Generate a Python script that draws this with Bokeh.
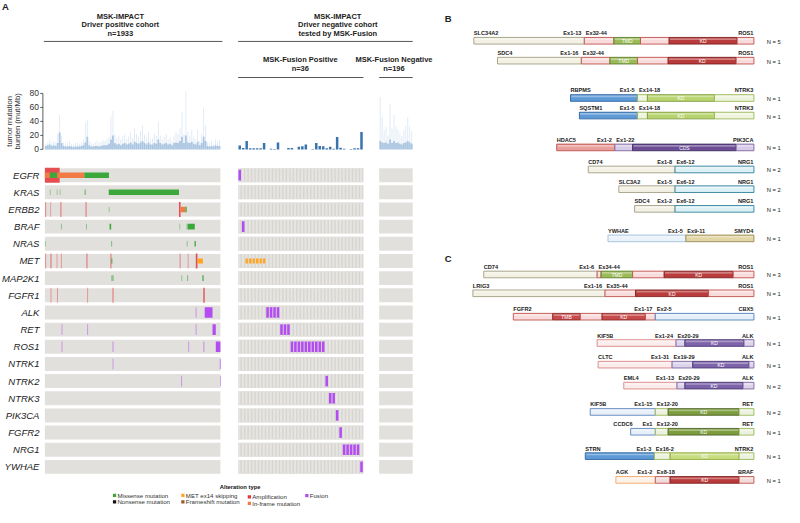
import numpy as np
from bokeh.plotting import figure
from bokeh.models import Range1d
from bokeh.core.properties import value
from bokeh.embed import file_html
from bokeh.resources import INLINE

# ============================ DATA ============================
GENES = ["EGFR", "KRAS", "ERBB2", "BRAF", "NRAS", "MET", "MAP2K1", "FGFR1", "ALK",
         "RET", "ROS1", "NTRK1", "NTRK2", "NTRK3", "PIK3CA", "FGFR2", "NRG1", "YWHAE"]
N_POS, N_FUS, N_NEG = 1933, 36, 196
TMB_TICKS = [0, 20, 40, 60, 80]

# TMB of driver-positive cohort, summarised in 89 consecutive sample bins (peak / typical)
TMB_POS_PEAK = [8, 10, 14, 9, 12, 10, 22, 49, 20, 10, 8, 9, 12, 8, 7, 9, 10, 8, 11, 14,
                38, 42, 12, 9, 8, 10, 12, 9, 11, 13, 12, 15, 18, 47, 55, 22, 16, 20, 14, 19,
                22, 15, 18, 25, 16, 30, 22, 18, 26, 34, 21, 17, 25, 14, 16, 22, 19, 40, 20, 15,
                18, 22, 14, 17, 12, 20, 25, 22, 30, 53, 22, 83, 25, 20, 28, 18, 15, 28, 12, 22,
                60, 35, 10, 9, 12, 8, 14, 10, 13]
TMB_POS_TYPICAL = [5, 6, 7, 5, 6, 5, 9, 24, 9, 5, 4, 4, 5, 4, 3, 4, 4, 4, 5, 6,
                   10, 18, 6, 4, 4, 5, 5, 4, 5, 6, 6, 6, 8, 14, 20, 9, 7, 8, 6, 8,
                   9, 7, 8, 10, 7, 11, 9, 8, 10, 12, 9, 7, 10, 7, 7, 9, 8, 14, 9, 7,
                   8, 9, 7, 8, 6, 9, 10, 9, 12, 18, 9, 20, 10, 9, 11, 8, 7, 11, 6, 9,
                   18, 12, 5, 4, 5, 4, 6, 5, 5]
# TMB of the 36 MSK-Fusion positive samples
TMB_FUS = [5.6, 2, 12, 1.5, 1.5, 1.5, 1.5, 9.3, 0, 1, 0.5, 10, 0, 0, 2, 2, 0, 3.7,
           4.6, 7, 0, 0.5, 9.3, 5, 4.6, 1.5, 3.7, 1, 17.7, 2.3, 1, 0, 0.5, 1.5, 1.5, 24.7]
# TMB of MSK-Fusion negative cohort in 17 sample bins
TMB_NEG_PEAK = [75, 46, 28, 32, 20, 65, 30, 49, 33, 28, 23, 19, 28, 33, 46, 33, 26]
TMB_NEG_TYPICAL = [12, 10, 9, 10, 8, 14, 9, 12, 9, 10, 8, 7, 9, 10, 12, 10, 8]

# driver-positive cohort alterations: gene, first sample, end sample, type
POS_ALTERATIONS = [
    ("EGFR", 0, 163, "amp"), ("EGFR", 0, 55, "inframe"), ("EGFR", 55, 135, "missense"),
    ("EGFR", 135, 434, "inframe"), ("EGFR", 434, 706, "missense"),
    ("KRAS", 54, 57, "missense"), ("KRAS", 129, 132, "missense"), ("KRAS", 162, 165, "missense"),
    ("KRAS", 438, 446, "missense"), ("KRAS", 703, 1477, "missense"),
    ("ERBB2", 3, 9, "amp"), ("ERBB2", 58, 61, "amp"), ("ERBB2", 171, 179, "amp"),
    ("ERBB2", 448, 456, "amp"), ("ERBB2", 703, 706, "missense"), ("ERBB2", 1477, 1494, "amp"),
    ("ERBB2", 1494, 1548, "inframe"), ("ERBB2", 1548, 1562, "missense"),
    ("BRAF", 177, 181, "missense"), ("BRAF", 453, 457, "missense"), ("BRAF", 712, 730, "missense"),
    ("BRAF", 1480, 1483, "missense"), ("BRAF", 1560, 1564, "missense"), ("BRAF", 1572, 1651, "missense"),
    ("NRAS", 0, 3, "missense"), ("NRAS", 730, 736, "missense"), ("NRAS", 1562, 1566, "missense"),
    ("NRAS", 1648, 1662, "missense"),
    ("MET", 3, 8, "amp"), ("MET", 62, 70, "amp"), ("MET", 128, 131, "amp"), ("MET", 176, 180, "amp"),
    ("MET", 458, 466, "amp"), ("MET", 722, 730, "amp"), ("MET", 732, 742, "missense"),
    ("MET", 1484, 1490, "amp"), ("MET", 1572, 1576, "amp"), ("MET", 1662, 1680, "amp"),
    ("MET", 1680, 1740, "ex14"),
    ("MAP2K1", 733, 740, "missense"), ("MAP2K1", 746, 752, "missense"), ("MAP2K1", 1502, 1506, "missense"),
    ("MAP2K1", 1566, 1572, "missense"), ("MAP2K1", 1735, 1748, "missense"),
    ("FGFR1", 62, 66, "amp"), ("FGFR1", 133, 137, "amp"), ("FGFR1", 465, 469, "amp"),
    ("FGFR1", 745, 753, "amp"), ("FGFR1", 1745, 1760, "amp"),
    ("ALK", 1660, 1664, "fusion"), ("ALK", 1760, 1846, "fusion"),
    ("RET", 183, 187, "fusion"), ("RET", 465, 469, "fusion"), ("RET", 1660, 1664, "fusion"),
    ("RET", 1846, 1882, "fusion"),
    ("ROS1", 183, 187, "fusion"), ("ROS1", 745, 750, "fusion"), ("ROS1", 1578, 1582, "fusion"),
    ("ROS1", 1745, 1750, "fusion"), ("ROS1", 1882, 1933, "fusion"),
    ("NTRK1", 745, 749, "fusion"), ("NTRK1", 1926, 1933, "fusion"),
    ("NTRK2", 1500, 1504, "fusion"), ("NTRK2", 1929, 1933, "fusion"),
]
# MSK-Fusion positive cohort: gene, sample indices, type
FUS_ALTERATIONS = [
    ("EGFR", [0], "fusion"), ("BRAF", [1], "fusion"), ("MET", [2, 3, 4, 5, 6, 7], "ex14"),
    ("ALK", [8, 9, 10, 11], "fusion"), ("RET", [12, 13, 14], "fusion"),
    ("ROS1", list(range(15, 25)), "fusion"), ("NTRK2", [25], "fusion"), ("NTRK3", [26, 27], "fusion"),
    ("PIK3CA", [28], "fusion"), ("FGFR2", [29], "fusion"), ("NRG1", [30, 31, 32, 33, 34], "fusion"),
    ("YWHAE", [35], "fusion"),
]

LEGEND_LABELS = ["Missense mutation", "Nonsense mutation", "MET ex14 skipping", "Frameshift mutation",
                 "Amplification", "In-frame mutation", "Fusion"]
LEGEND_TYPES = ["missense", "nonsense", "ex14", "frameshift", "amp", "inframe", "fusion"]

# fusion structures (panels B and C)
FUSION_5P = ["SLC34A2", "SDC4", "RBPMS", "SQSTM1", "HDAC5", "CD74", "SLC3A2", "SDC4", "YWHAE",
             "CD74", "LRIG3", "FGFR2", "KIF5B", "CLTC", "EML4", "KIF5B", "CCDC6", "STRN", "AGK"]
FUSION_5P_EX = ["Ex1-13", "Ex1-16", "Ex1-5", "Ex1-5", "Ex1-2", "Ex1-8", "Ex1-5", "Ex1-2", "Ex1-5",
                "Ex1-6", "Ex1-16", "Ex1-17", "Ex1-24", "Ex1-31", "Ex1-13", "Ex1-15", "Ex1", "Ex1-3", "Ex1-2"]
FUSION_3P = ["ROS1", "ROS1", "NTRK3", "NTRK3", "PIK3CA", "NRG1", "NRG1", "NRG1", "SMYD4",
             "ROS1", "ROS1", "CBX5", "ALK", "ALK", "ALK", "RET", "RET", "NTRK2", "BRAF"]
FUSION_3P_EX = ["Ex32-44", "Ex32-44", "Ex14-18", "Ex14-18", "Ex1-22", "Ex6-12", "Ex6-12", "Ex6-12", "Ex9-11",
                "Ex34-44", "Ex35-44", "Ex2-5", "Ex20-29", "Ex19-29", "Ex20-29", "Ex12-20", "Ex12-20",
                "Ex16-2", "Ex8-18"]
FUSION_N = [5, 1, 1, 1, 1, 2, 2, 1, 1, 3, 1, 1, 1, 1, 2, 2, 1, 1, 1]
# retained region lengths (arbitrary units) with domains
FUSION_5P_SEGS = [
    [(112, "")], [(85, "")], [(68, "")], [(59, "")], [(59, "")], [(88, "")], [(57, "")], [(41, "")], [(79, "")],
    [(115, "")], [(134, "")], [(40, ""), (28, "TMB"), (22, ""), (44, "KD"), (10, "")],
    [(80, "")], [(75, "")], [(54, "")], [(66, "")], [(25, "")], [(70, "")], [(40, "")],
]
FUSION_3P_SEGS = [
    [(30, ""), (27, "TMD"), (29, ""), (69, "KD"), (17, "")],
    [(29, ""), (28, "TMD"), (31, ""), (69, "KD"), (18, "")],
    [(10, ""), (68, "KD"), (40, "")],
    [(10, ""), (68, "KD"), (40, "")],
    [(18, ""), (105, "CDS"), (18, "")],
    [(80, "")], [(80, "")], [(80, "")],
    [(69, "")],
    [(4, ""), (32, "TMD"), (32, ""), (70, "KD"), (21, "")],
    [(31, ""), (74, "KD"), (46, "")],
    [(100, "")],
    [(9, ""), (60, "KD"), (10, "")],
    [(21, ""), (57, "KD"), (5, "")],
    [(8, ""), (59, "KD"), (11, "")],
    [(13, ""), (72, "KD"), (15, "")],
    [(13, ""), (72, "KD"), (15, "")],
    [(16, ""), (70, "KD"), (15, "")],
    [(15, ""), (70, "KD"), (15, "")],
]

# ============================ LAYOUT / STYLE ============================
W, H = 784, 507
XL, XR, YB, YT = 2.0, 797.0, 522.0, 2.0
COH = {"pos": (47.0, 225.0, N_POS), "fus": (243.0, 370.0, N_FUS), "neg": (386.0, 420.0, N_NEG)}
ROW0, PITCH, ROW_H = 181.15, 17.6, 14.3
TMB_BASE, TMB_PX = 154.7, 57.4 / 80.0
FONT = "Liberation Sans"

ALT_COLOR = {"missense": "#3CA83C", "nonsense": "#111111", "ex14": "#FFA51E", "frameshift": "#9C5A2C",
             "amp": "#E5323B", "inframe": "#F27B45", "fusion": "#B34DF2"}
ALT_H = {"amp": 1.08, "fusion": 0.76, "missense": 0.40, "inframe": 0.40, "ex14": 0.36,
         "nonsense": 0.40, "frameshift": 0.40}

FUSION_ROW_Y = [43.3, 63.7, 102, 120, 152.7, 175.3, 195.5, 215.7, 246,
                283, 302.3, 326.3, 353.3, 375.5, 397, 424, 444.3, 469.3, 493.7]
FUSION_5P_COLOR = ["cream", "cream", "blue", "blue", "salmon", "cream", "cream", "cream", "ice",
                   "cream", "cream", "pink", "rose", "rose", "rose", "sky", "sky", "blue", "peach"]
PARTNER_FILL = {"cream": ("#F3F1E4", "#A29E84"), "blue": ("#5E9BD6", "#2D64A0"),
                "salmon": ("#E7A09C", "#C0504D"), "ice": ("#EAF2FA", "#9EC0DC"),
                "pink": ("#F8DCDC", "#C0504D"), "rose": ("#FCEDED", "#D98686"),
                "sky": ("#E7EFF9", "#5A85BE"), "peach": ("#FDF2E8", "#F2A464")}
GENE3_FILL = {"ROS1": ("#F8DCDC", "#C0504D"), "NTRK3": ("#EEF4DD", "#98B855"),
              "PIK3CA": ("#D6CCE8", "#7F64A2"), "NRG1": ("#DDF0F6", "#2F8199"),
              "SMYD4": ("#E2D6A6", "#998A55"), "CBX5": ("#E5EEF9", "#4F81BD"),
              "ALK": ("#DCD4EB", "#7F64A2"), "RET": ("#ECF2DF", "#98B855"),
              "NTRK2": ("#ECF2DF", "#98B855"), "BRAF": ("#F3DDDC", "#C0504D")}
DOMAIN_FILL = {("ROS1", "TMD"): ("#9BBB59", "#5F7F2A"), ("ROS1", "KD"): ("#B93B3B", "#7E1F1F"),
               ("NTRK3", "KD"): ("#B8D46F", "#7F9C3C"), ("PIK3CA", "CDS"): ("#6B4D94", "#3E2A60"),
               ("FGFR2", "TMB"): ("#C84B4B", "#8A2A2A"), ("FGFR2", "KD"): ("#C84B4B", "#8A2A2A"),
               ("ALK", "KD"): ("#7D63A9", "#4A3774"), ("RET", "KD"): ("#7C9C3E", "#4E6229"),
               ("NTRK2", "KD"): ("#C8DC80", "#8DAD40"), ("BRAF", "KD"): ("#B93B3B", "#7E1F1F")}
BAR_RIGHT, BAR_H = 766.0, 6.8

p = figure(width=W, height=H, x_range=Range1d(XL, XR), y_range=Range1d(YB, YT),
           output_backend="svg", toolbar_location=None, min_border=0,
           x_axis_location=None, y_axis_location=None)
p.grid.visible = False
p.outline_line_color = None
p.background_fill_color = "white"
p.border_fill_color = "white"
p.extra_x_ranges = {k: Range1d((XL - a) * n / (b - a), (XR - a) * n / (b - a)) for k, (a, b, n) in COH.items()}
p.extra_y_ranges = {"tmb": Range1d((TMB_BASE - YB) / TMB_PX, (TMB_BASE - YT) / TMB_PX),
                    "gene": Range1d((YB - ROW0) / PITCH, (YT - ROW0) / PITCH)}


def T(x, y, s, size, style="normal", align="left", color="#222222", angle=0.0, **kw):
    p.text(x=[x], y=[y], text=[s], text_font=value(FONT), text_font_size=value(f"{size}px"),
           text_font_style=style, text_align=align, text_baseline="middle", text_color=color,
           angle=angle, **kw)


# ---------------- panel letters & headers ----------------
T(3.5, 8, "A", 9.5, "bold")
T(452.5, 20.5, "B", 9.5, "bold")
T(452.5, 267, "C", 9.5, "bold")

hdr = 7.5
for i, s in enumerate(["MSK-IMPACT", "Driver positive cohort", f"n={N_POS}"]):
    T(123.5, 18 + 9 * i, s, hdr, "bold", "center")
for i, s in enumerate(["MSK-IMPACT", "Driver negative cohort", "tested by MSK-Fusion"]):
    T(344, 18 + 9 * i, s, hdr, "bold", "center")
T(306, 63, "MSK-Fusion Positive", hdr, "bold", "center")
T(306, 71.5, f"n={N_FUS}", hdr, "bold", "center")
T(401, 63, "MSK-Fusion Negative", hdr, "bold", "center")
T(401, 71.5, f"n={N_NEG}", hdr, "bold", "center")
p.segment(x0=[46, COH["fus"][0], COH["fus"][0], COH["neg"][0]],
          x1=[227, COH["neg"][1], COH["fus"][1], COH["neg"][1]],
          y0=[44, 44, 81, 81], y1=[44, 44, 81, 81], line_color="#555555", line_width=1)

# ---------------- TMB ----------------
for key, peak, typ in [("pos", TMB_POS_PEAK, TMB_POS_TYPICAL), ("neg", TMB_NEG_PEAK, TMB_NEG_TYPICAL)]:
    n = COH[key][2]
    edges = np.linspace(0, n, len(peak) + 1)
    w = edges[1] - edges[0]
    p.quad(left=edges[:-1] + 0.3 * w, right=edges[1:] - 0.3 * w, bottom=0, top=peak,
           x_range_name=key, y_range_name="tmb", fill_color="#7BA7D3", fill_alpha=0.28, line_color=None)
    p.quad(left=edges[:-1], right=edges[1:], bottom=0, top=typ,
           x_range_name=key, y_range_name="tmb", fill_color="#5A8FC4", fill_alpha=0.42, line_color=None)
p.vbar(x=np.arange(N_FUS) + 0.45, width=0.72, bottom=0, top=TMB_FUS, x_range_name="fus",
       y_range_name="tmb", fill_color="#3A74AE", line_color=None)

p.segment(x0=[45], x1=[45], y0=[TMB_TICKS[0]], y1=[TMB_TICKS[-1]], y_range_name="tmb",
          line_color="#333333", line_width=0.8)
p.segment(x0=[42.3] * len(TMB_TICKS), x1=[45] * len(TMB_TICKS), y0=TMB_TICKS, y1=TMB_TICKS,
          y_range_name="tmb", line_color="#333333", line_width=0.8)
p.text(x=[41] * len(TMB_TICKS), y=TMB_TICKS, text=[str(t) for t in TMB_TICKS], y_range_name="tmb",
       text_font=value(FONT), text_font_size=value("8.5px"), text_align="right",
       text_baseline="middle", text_color="#333333")
T(10.7, 126, "tumor mutation", 7.6, "normal", "center", "#333333", angle=np.pi / 2)
T(19.2, 126, "burden (mut/Mb)", 7.6, "normal", "center", "#333333", angle=np.pi / 2)

# ---------------- oncoprint ----------------
gi = {g: i for i, g in enumerate(GENES)}
hh = ROW_H / PITCH / 2
ng = len(GENES)
rows = np.arange(ng)
for key, (a, b, n) in COH.items():
    bg = "#D7D5D1" if key == "fus" else "#E2E0DC"
    p.quad(left=[0] * ng, right=[n] * ng, top=rows - hh, bottom=rows + hh, x_range_name=key,
           y_range_name="gene", fill_color=bg, line_color=None)
cl, cr, ct, cb = [], [], [], []
for i in range(ng):
    for j in range(N_FUS):
        cl.append(j + 0.06); cr.append(j + 0.66); ct.append(i - hh); cb.append(i + hh)
p.quad(left=cl, right=cr, top=ct, bottom=cb, x_range_name="fus", y_range_name="gene",
       fill_color="#E7E5E1", line_color=None)

p.text(x=[41.5] * ng, y=rows, text=GENES, y_range_name="gene", text_font=value(FONT),
       text_font_size=value("9.5px"), text_font_style="italic", text_align="right",
       text_baseline="middle", text_color="#1A1A1A")

px_s = N_POS / (COH["pos"][1] - COH["pos"][0])
src = dict(l=[], r=[], t=[], b=[], c=[], a=[])
for g, s, e, typ in sorted(POS_ALTERATIONS, key=lambda r: r[3] != "amp"):
    n = e - s
    frac = min(1.0, n / px_s)
    half = ALT_H[typ] / 2 * (2 * hh)
    src["l"].append(s); src["r"].append(max(e, s + px_s))
    src["t"].append(gi[g] - half); src["b"].append(gi[g] + half)
    src["c"].append(ALT_COLOR[typ])
    al = 0.22 + 0.78 * frac
    src["a"].append(al * (0.85 if typ == "amp" else 1.0))
p.quad(left="l", right="r", top="t", bottom="b", fill_color="c", fill_alpha="a", line_color=None,
       source=src, x_range_name="pos", y_range_name="gene")

src2 = dict(l=[], r=[], t=[], b=[], c=[])
for g, idx, typ in FUS_ALTERATIONS:
    half = ALT_H[typ] / 2 * (2 * hh)
    for j in idx:
        inset = 0.12 if typ == "ex14" else 0.08
        src2["l"].append(j + inset); src2["r"].append(j + 0.86 - inset / 2)
        src2["t"].append(gi[g] - half); src2["b"].append(gi[g] + half)
        src2["c"].append(ALT_COLOR[typ])
p.quad(left="l", right="r", top="t", bottom="b", fill_color="c", line_color=None,
       source=src2, x_range_name="fus", y_range_name="gene")

# ---------------- legend ----------------
T(245, 500.5, "Alteration type", 5.8, "bold", "center", "#111111")
LEG_X = [116, 116, 185.3, 185.3, 252.7, 252.7, 311]
LEG_Y = [509.5, 516.3, 509.5, 516.3, 511.2, 517.8, 509.8]
sq = 3.3
p.quad(left=LEG_X, right=[x + sq for x in LEG_X], top=[y - sq / 2 for y in LEG_Y],
       bottom=[y + sq / 2 for y in LEG_Y], fill_color=[ALT_COLOR[t] for t in LEGEND_TYPES], line_color=None)
p.text(x=[x + 4.6 for x in LEG_X], y=LEG_Y, text=LEGEND_LABELS, text_font=value(FONT),
       text_font_size=value("6.1px"), text_align="left", text_baseline="middle", text_color="#333333")

# ---------------- fusion diagrams ----------------
qs = dict(l=[], r=[], t=[], b=[], f=[], lc=[])
gl = dict(l=[], r=[], t=[], b=[])
dom_txt = dict(x=[], y=[], s=[])
lab = dict(x=[], y=[], s=[], al=[])
for k in range(len(FUSION_5P)):
    yc = FUSION_ROW_Y[k]
    segs5, segs3 = FUSION_5P_SEGS[k], FUSION_3P_SEGS[k]
    total = sum(s[0] for s in segs5) + sum(s[0] for s in segs3)
    x = BAR_RIGHT - total
    left = x
    junction = None
    for part, segs in [("5", segs5), ("3", segs3)]:
        if part == "3":
            junction = x
        for ln, dom in segs:
            if part == "5":
                gene = FUSION_5P[k]
                fill, line = PARTNER_FILL[FUSION_5P_COLOR[k]]
            else:
                gene = FUSION_3P[k]
                fill, line = GENE3_FILL[gene]
            if dom:
                fill, line = DOMAIN_FILL[(gene, dom)]
                dom_txt["x"].append(x + ln / 2); dom_txt["y"].append(yc + 0.3); dom_txt["s"].append(dom)
            qs["l"].append(x); qs["r"].append(x + ln)
            qs["t"].append(yc - BAR_H / 2); qs["b"].append(yc + BAR_H / 2)
            qs["f"].append(fill); qs["lc"].append(line)
            gl["l"].append(x + 0.8); gl["r"].append(x + ln - 0.8)
            gl["t"].append(yc - BAR_H / 2 + 0.9); gl["b"].append(yc - BAR_H / 2 + 2.6)
            x += ln
    ly = yc - 7.7
    len5 = sum(s[0] for s in segs5)
    if len5 < 30:
        lab["x"].append(left + 2); lab["al"].append("right")
    else:
        lab["x"].append(left); lab["al"].append("left")
    lab["y"].append(ly); lab["s"].append(FUSION_5P[k])
    lab["x"].append(junction - 3); lab["y"].append(ly); lab["s"].append(FUSION_5P_EX[k]); lab["al"].append("right")
    lab["x"].append(junction + 1.5); lab["y"].append(ly); lab["s"].append(FUSION_3P_EX[k]); lab["al"].append("left")
    lab["x"].append(BAR_RIGHT - 0.5); lab["y"].append(ly); lab["s"].append(FUSION_3P[k]); lab["al"].append("right")
    T(779, yc + 1, f"N = {FUSION_N[k]}", 5.8, "normal", "left", "#222222")

p.quad(left="l", right="r", top="t", bottom="b", fill_color="f", line_color="lc", line_width=0.9, source=qs)
p.quad(left="l", right="r", top="t", bottom="b", fill_color="white", fill_alpha=0.35, line_color=None, source=gl)
p.text(x="x", y="y", text="s", source=dom_txt, text_font=value(FONT), text_font_size=value("5px"),
       text_align="center", text_baseline="middle", text_color="white")
p.text(x="x", y="y", text="s", text_align="al", source=lab, text_font=value(FONT),
       text_font_size=value("5.6px"), text_font_style="bold", text_baseline="middle", text_color="#1A1A1A")

open("out.html", "w").write(file_html(p, INLINE))
